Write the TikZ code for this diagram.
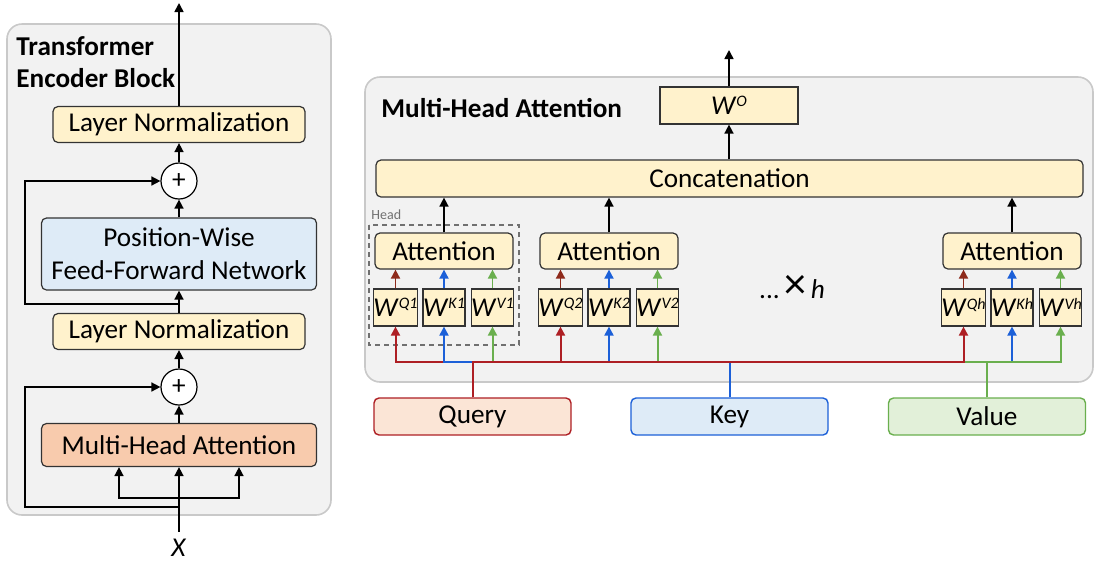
\documentclass[tikz,border=0pt]{standalone}
\usepackage{fontspec}
\setmainfont{Carlito}
\usetikzlibrary{arrows.meta}
\definecolor{panelgray}{HTML}{F2F2F2}
\definecolor{panelline}{HTML}{C9C9C9}
\definecolor{boxline}{HTML}{333333}
\definecolor{lnyellow}{HTML}{FFF2CC}
\definecolor{ffnblue}{HTML}{DEEBF7}
\definecolor{mhaorange}{HTML}{F8CBAD}
\definecolor{qred}{HTML}{AE1F24}
\definecolor{qdark}{HTML}{8E2A1B}
\definecolor{kblue}{HTML}{1C60D8}
\definecolor{vgreen}{HTML}{6AAF4E}
\definecolor{qfill}{HTML}{FBE5D6}
\definecolor{kfill}{HTML}{DEEBF7}
\definecolor{vfill}{HTML}{E2F0D9}
\definecolor{headgray}{HTML}{707070}
\newcommand{\wmat}[1]{\textit{W}\raisebox{3.8pt}{\fontsize{8}{8}\selectfont\textit{#1}}}
\begin{document}
\begin{tikzpicture}[x=0.5pt,y=-0.5pt,
	font=\fontsize{13.6}{16.5}\selectfont,
	>={Triangle[length=4.5pt,width=4.5pt]},
	box/.style={draw=boxline,line width=0.6pt,rounded corners=2.5pt,inner sep=0pt,align=center},
	lnbox/.style={box,fill=lnyellow,minimum width=126pt,minimum height=18pt},
	attbox/.style={box,fill=lnyellow,minimum width=69pt,minimum height=18pt},
	wbox/.style={box,rounded corners=0pt,fill=lnyellow,minimum width=21pt,minimum height=18.5pt},
	inbox/.style={box,line width=0.7pt,minimum width=98.5pt,minimum height=18.5pt},
	addc/.style={circle,draw=black,fill=white,line width=0.6pt,minimum size=18pt,inner sep=0pt},
	panel/.style={fill=panelgray,draw=panelline,line width=0.8pt,rounded corners=7.5pt},
	titletext/.style={anchor=base west,inner sep=0pt,align=left,font=\fontsize{13.6}{16}\selectfont\bfseries},
	arr/.style={->,line width=0.8pt},
	qbus/.style={->,draw=qred,line width=1pt},
	kbus/.style={->,draw=kblue,line width=1pt},
	vbus/.style={->,draw=vgreen,line width=1pt},
	qarr/.style={->,draw=qdark,line width=0.9pt}]
	\useasboundingbox (0,0) rectangle (1094,563);
	% panels
	\path[panel] (7,24) rectangle (331,515);
	\path[panel] (365,77) rectangle (1093,382);

	%Encoder block
	\node[titletext] (enctitle) at (16,87) {Transformer\\Encoder Block};
	\node[lnbox] (ln2) at (179,124.5) {Layer Normalization};
	\node[addc] (add2) at (179,181) {+};
	\node[box,fill=ffnblue,minimum width=137.5pt,minimum height=36pt] (ffn) at (179,254) {Position-Wise\\Feed-Forward Network};
	\node[lnbox] (ln1) at (179,331.5) {Layer Normalization};
	\node[addc] (add1) at (179,387) {+};
	\node[box,fill=mhaorange,minimum width=137.5pt,minimum height=21.5pt] (mha) at (179,445) {Multi-Head Attention};
	\node[inner sep=3.5pt] (inx) at (179,548) {\textit{X}};
	\coordinate (encout) at (179,3);
	\coordinate (leftrail) at (25,0);
	\coordinate (res2) at (179,304);
	\coordinate (res1) at (179,507);
	\coordinate (split) at (179,498);
	\draw[arr] (ln2) -- (encout);
	\draw[arr] (add2) -- (ln2);
	\draw[arr] (ffn) -- (add2);
	\draw[arr] (ln1) -- (ffn);
	\draw[arr] (res2) -- (res2 -| leftrail) |- (add2);
	\draw[arr] (add1) -- (ln1);
	\draw[arr] (mha) -- (add1);
	\draw[arr] (inx) -- (mha);
	\draw[arr] (split) -| ([xshift=-30pt]mha.south);
	\draw[arr] (split) -| ([xshift=30pt]mha.south);
	\draw[arr] (res1) -- (res1 -| leftrail) |- (add1);

	% Multi-Head Attention
	\node[titletext] (mhatitle) at (381,117) {Multi-Head Attention};
	\node[wbox,minimum width=69pt] (wo) at (729,105.5) {\wmat{O}};
	\node[box,fill=lnyellow,minimum width=353.5pt,minimum height=18.5pt] (concat) at (729.5,178.5) {Concatenation};
	\coordinate (mhaout) at (729,50);
	\draw[arr] (wo) -- (mhaout);
	\draw[arr] (wo.south |- concat.north) -- (wo.south);
	\draw[headgray,line width=0.7pt,dash pattern=on 2.5pt off 2pt] (369,225) rectangle (519,345);
	\node[anchor=base west,inner sep=0pt,text=headgray,font=\fontsize{7}{8}\selectfont] (headlbl) at (371,219) {Head};
	\foreach \h/\x in {1/444,2/609,h/1012}{
		\node[attbox] (att\h) at (\x,251) {Attention};
		\node[wbox] (wq\h) at (\x-48.5,307.5) {\wmat{Q\h}};
		\node[wbox] (wk\h) at (\x,307.5) {\wmat{K\h}};
		\node[wbox] (wv\h) at (\x+48.5,307.5) {\wmat{V\h}};
		\draw[qarr] (wq\h) -- (wq\h.north |- att\h.south);
		\draw[kbus,line width=0.9pt] (wk\h) -- (att\h);
		\draw[vbus,line width=0.9pt] (wv\h) -- (wv\h.north |- att\h.south);
		\draw[arr] (att\h) -- (att\h.north |- concat.south);
	}
	\node (ellip) at (792,287) {...\,{\fontsize{22}{22}\selectfont ×}\,\textit{h}};

	% inputs
	\node[inbox,fill=qfill,draw=qred] (query) at (472.5,416.5) {Query};
	\node[inbox,fill=kfill,draw=kblue] (key) at (729.5,416.5) {Key};
	\node[inbox,fill=vfill,draw=vgreen] (value) at (987,416.5) {Value};
	\coordinate (bus) at (0,362);
	\draw[qbus] (query) -- (query |- bus) -| (wq1);
	\foreach \h in {1,2,h} \draw[kbus] (key) -- (key |- bus) -| (wk\h);
	\foreach \h in {1,2,h} \draw[vbus] (value) -- (value |- bus) -| (wv\h);
	\draw[qbus] (query) -- (query |- bus) -| (wq2);
	\draw[qbus] (query) -- (query |- bus) -| (wqh);
\end{tikzpicture}
\end{document}
